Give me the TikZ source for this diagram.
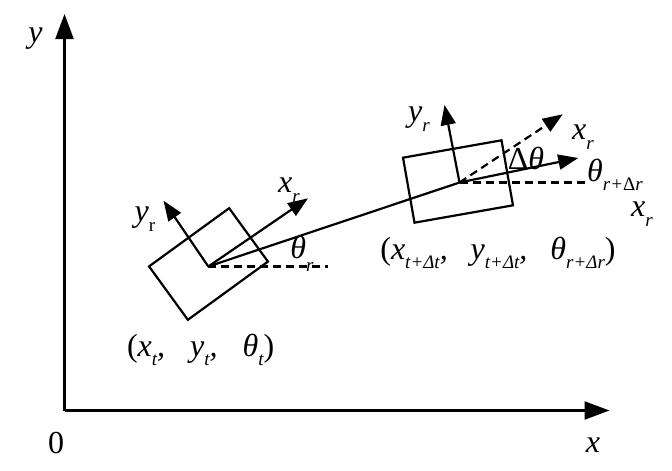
\documentclass[tikz,border=0pt]{standalone}
\usepackage{fontspec}
\setmainfont{Liberation Serif}
\usetikzlibrary{arrows.meta}
\newcommand\lsub[1]{\raisebox{-0.3em}{\fontsize{19}{19}\selectfont #1}}
\newcommand\dsub[1]{\raisebox{-0.4em}{\fontsize{19}{19}\selectfont #1}}
\begin{document}
\begin{tikzpicture}[x=1pt,y=-1pt,
  ln/.style={line width=2.2pt, black},
  axisarr/.style={ln, -{Triangle[length=25pt,width=18pt]}},
  robarr/.style={ln, -{Triangle[length=20pt,width=15pt]}},
  dsh/.style={ln, dash pattern=on 8pt off 5pt},
  robot/.style={draw, line width=2.2pt, inner sep=0pt, outer sep=0pt, minimum width=99pt, minimum height=66pt},
  lab/.style={inner sep=0pt, font=\fontsize{32}{34}\selectfont\itshape},
  up/.style={inner sep=0pt, font=\fontsize{32}{34}\selectfont}]
\useasboundingbox (0,0) rectangle (672,471);
% axes
\coordinate (O) at (64.5,410.5);
\coordinate (ytip) at (64.5,14);
\coordinate (xtip) at (609.5,410.5);
\draw[axisarr] (O) -- (ytip);
\draw[axisarr] (O) -- (xtip);
\node[lab] (ly) at (35.5,39) {y};
\node[up] (l0) at (56,443) {0};
\node[lab] (lx) at (593,445) {x};
% robot 1
\node[robot, rotate=36] (r1) at (208.5,264) {};
\coordinate (c1) at (208.3,266.5);
\coordinate (x1tip) at (308,198.3);
\coordinate (y1tip) at (163.5,200.7);
\coordinate (h1end) at (328,266.5);
\draw[robarr] (c1) -- (x1tip);
\draw[robarr] (c1) -- (y1tip);
\draw[dsh] (c1) -- (h1end);
% robot 2
\node[robot, rotate=10, minimum width=100pt] (r2) at (458,181.5) {};
\coordinate (c2) at (459.5,182.5);
\coordinate (x2tip) at (578.3,158);
\coordinate (y2tip) at (444.5,105);
\coordinate (d2tip) at (562.7,114.3);
\coordinate (h2end) at (587,182.5);
\draw[ln] (c1) -- (c2);
\draw[robarr] (c2) -- (x2tip);
\draw[robarr] (c2) -- (y2tip);
\draw[dsh, -{Triangle[length=20pt,width=15pt]}] (c2) -- (d2tip);
\draw[dsh] (c2) -- (h2end);
% labels
\node[lab] (ly1) at (145,219) {y\lsub{\upshape r}};
\node[lab] (lx1) at (289,190) {x\lsub{r}};
\node[lab] (lth1) at (302,254) {θ\dsub{r}};
\node[lab] (ly2) at (419,119) {y\lsub{r}};
\node[lab] (lx2) at (583,137) {x\lsub{r}};
\node[lab] (ldt) at (526,158) {{\upshape Δ}θ};
\node[lab] (lthr) at (615,175) {θ\lsub{r+{\upshape Δ}r}};
\node[lab] (lx3) at (642,214) {x\lsub{r}};
\node[lab] (t1) at (200.7,350) {{\upshape (}x\lsub{t},\hspace{25pt}y\lsub{t},\hspace{25pt}θ\lsub{t}{\upshape )}};
\node[lab] (t2) at (498,253) {{\upshape (}x\lsub{t+Δt},\hspace{23pt}y\lsub{t+Δt},\hspace{23pt}θ\lsub{r+Δr}{\upshape )}};
\end{tikzpicture}
\end{document}
